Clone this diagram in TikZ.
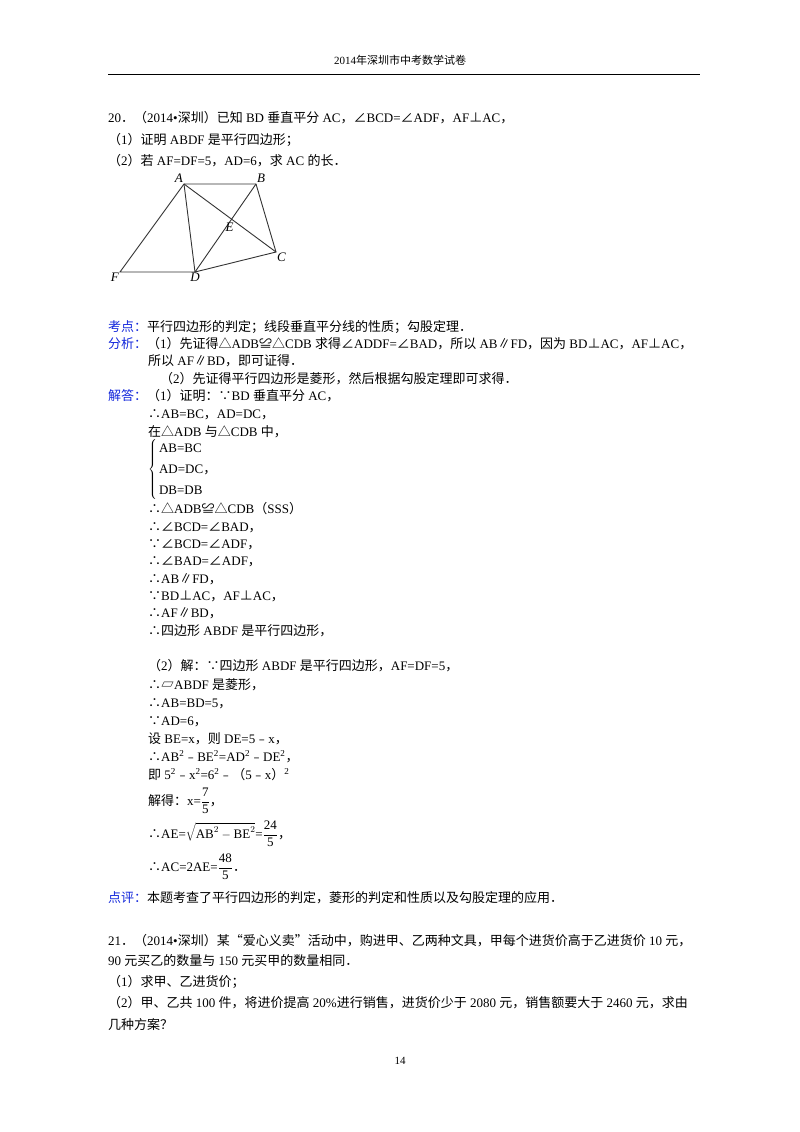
\documentclass[tikz,border=0pt]{standalone}
\usepackage{fontspec}
\setmainfont{Liberation Serif}
\newfontfamily\cjk{Noto Sans CJK SC}
\usetikzlibrary{calc}
\XeTeXinterchartokenstate=1
\newXeTeXintercharclass\CJKcls
\newcount\mycnt
\def\setcls#1#2{\mycnt=#1\relax\loop\XeTeXcharclass\mycnt=\CJKcls\relax\ifnum\mycnt<#2\advance\mycnt1\relax\repeat}
\setcls{"2200}{"22FF}
\setcls{"25A0}{"25FF}
\setcls{"3000}{"303F}
\setcls{"4E00}{"9FFF}
\setcls{"FE30}{"FE6F}
\setcls{"FF00}{"FFEF}
\setcls{"201C}{"201D}
\XeTeXinterchartoks 0 \CJKcls = {\begingroup\cjk}
\XeTeXinterchartoks 4095 \CJKcls = {\begingroup\cjk}
\XeTeXinterchartoks \CJKcls 0 = {\endgroup}
\XeTeXinterchartoks \CJKcls 4095 = {\endgroup}
\definecolor{kb}{RGB}{20,40,220}
\begin{document}
\begin{tikzpicture}[x=1pt,y=-1pt,
  txt/.style={anchor=base west,inner sep=0pt,font=\fontsize{13}{15}\selectfont},
  lbl/.style={inner sep=1pt,font=\fontsize{13}{13}\selectfont\itshape},
  seg/.style={draw=black!80,line width=0.9pt}]
\useasboundingbox[fill=white] (0,0) rectangle (800,1132);
\node[txt,anchor=base] (hd) at (400,64) {\fontsize{11}{11}\selectfont 2014年深圳市中考数学试卷};
\coordinate (h1) at (108,74); \coordinate (h2) at (700,74);
\draw[line width=0.9pt] (h1) -- (h2);
\node[txt] (q1) at (108,122) {20．（2014•深圳）已知 BD 垂直平分 AC，∠BCD=∠ADF，AF⊥AC，};
\node[txt] (q2) at (108,144) {（1）证明 ABDF 是平行四边形；};
\node[txt] (q3) at (108,165) {（2）若 AF=DF=5，AD=6，求 AC 的长．};
% figure
\coordinate (A) at (184,184); \coordinate (B) at (256,184);
\coordinate (C) at (276,252); \coordinate (D) at (195,272);
\coordinate (F) at (120,272);
\coordinate (E) at (intersection of A--C and B--D);
\draw[seg] (F) -- (A) -- (B) -- (C) -- (D) -- cycle;
\draw[seg] (A) -- (D); \draw[seg] (A) -- (C); \draw[seg] (B) -- (D);
\node[lbl,anchor=south east] (lA) at (A) {A};
\node[lbl,anchor=south west] (lB) at (B) {B};
\node[lbl,anchor=north west] (lC) at (C) {C};
\node[lbl,anchor=north] (lD) at (D) {D};
\node[lbl,anchor=north east] (lF) at (F) {F};
\node[lbl,anchor=north] (lE) at ($(E)+(-2,3)$) {E};
% analysis
\node[txt] (k1) at (108,331) {\textcolor{kb}{考点：}平行四边形的判定；线段垂直平分线的性质；勾股定理．};
\node[txt] (k2) at (108,348) {\textcolor{kb}{分析：}（1）先证得△ADB≌△CDB 求得∠ADDF=∠BAD，所以 AB∥FD，因为 BD⊥AC，AF⊥AC，};
\node[txt] (k3) at (148,365) {所以 AF∥BD，即可证得．};
\node[txt] (k4) at (160,383) {（2）先证得平行四边形是菱形，然后根据勾股定理即可求得．};
\node[txt] (s1) at (108,400) {\textcolor{kb}{解答：}（1）证明：∵BD 垂直平分 AC，};
\node[txt] (s2) at (148,418) {∴AB=BC，AD=DC，};
\node[txt] (s3) at (148,436) {在△ADB 与△CDB 中，};
\node[anchor=west,inner sep=0pt,font=\fontsize{13}{15}\selectfont] (br) at (148,469)
  {$\left\{\,\renewcommand\arraystretch{1.4}\begin{tabular}{@{}l@{}}AB=BC\\AD=DC，\\DB=DB\end{tabular}\right.$};
\node[txt] (s4) at (148,513) {∴△ADB≌△CDB（SSS）};
\node[txt] (s5) at (148,531) {∴∠BCD=∠BAD，};
\node[txt] (s6) at (148,548) {∵∠BCD=∠ADF，};
\node[txt] (s7) at (148,565) {∴∠BAD=∠ADF，};
\node[txt] (s8) at (148,583) {∴AB∥FD，};
\node[txt] (s9) at (148,600) {∵BD⊥AC，AF⊥AC，};
\node[txt] (s10) at (148,617) {∴AF∥BD，};
\node[txt] (s11) at (148,635) {∴四边形 ABDF 是平行四边形，};
\node[txt] (t1) at (148,670) {（2）解：∵四边形 ABDF 是平行四边形，AF=DF=5，};
\node[txt] (t2) at (148,689) {∴▱ABDF 是菱形，};
\node[txt] (t3) at (148,707) {∴AB=BD=5，};
\node[txt] (t4) at (148,725) {∵AD=6，};
\node[txt] (t5) at (148,743) {设 BE=x，则 DE=5﹣x，};
\node[txt] (t6) at (148,761) {∴AB\textsuperscript{2}﹣BE\textsuperscript{2}=AD\textsuperscript{2}﹣DE\textsuperscript{2}，};
\node[txt] (t7) at (148,779) {即 5\textsuperscript{2}﹣x\textsuperscript{2}=6\textsuperscript{2}﹣（5﹣x）\textsuperscript{2}};
\node[txt] (t8) at (148,805) {解得：x=$\displaystyle\frac{\mathrm{7}}{\mathrm{5}}$，};
\node[txt] (t9) at (148,838) {∴AE=$\displaystyle\sqrt{\mathrm{AB}^2-\mathrm{BE}^2}$=$\displaystyle\frac{\mathrm{24}}{\mathrm{5}}$，};
\node[txt] (t10) at (148,871) {∴AC=2AE=$\displaystyle\frac{\mathrm{48}}{\mathrm{5}}$．};
\node[txt] (p1) at (108,902) {\textcolor{kb}{点评：}本题考查了平行四边形的判定，菱形的判定和性质以及勾股定理的应用．};
\node[txt] (u1) at (108,945) {21．（2014•深圳）某“爱心义卖”活动中，购进甲、乙两种文具，甲每个进货价高于乙进货价 10 元，};
\node[txt] (u2) at (108,965) {90 元买乙的数量与 150 元买甲的数量相同．};
\node[txt] (u3) at (108,986) {（1）求甲、乙进货价；};
\node[txt] (u4) at (108,1007) {（2）甲、乙共 100 件，将进价提高 20\%进行销售，进货价少于 2080 元，销售额要大于 2460 元，求由};
\node[txt] (u5) at (108,1029) {几种方案？};
\node[txt,anchor=base] (pg) at (400,1064) {\fontsize{11}{11}\selectfont 14};
\end{tikzpicture}
\end{document}
